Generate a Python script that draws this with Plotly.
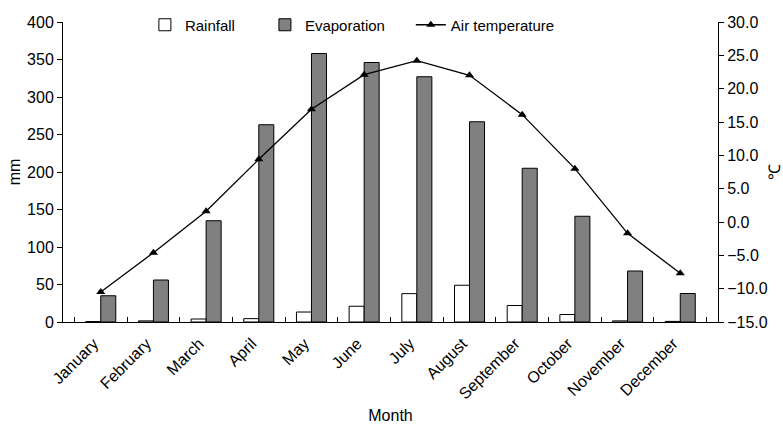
import plotly.graph_objects as go

months = ["January", "February", "March", "April", "May", "June", "July",
          "August", "September", "October", "November", "December"]
rainfall = [0.6, 1.5, 4.0, 4.5, 13.3, 21.0, 37.8, 49.0, 22.0, 10.0, 1.5, 0.8]
evaporation = [35, 56, 135, 263, 358, 346, 327, 267, 205, 141, 68, 38]
air_temp = [-10.5, -4.6, 1.6, 9.4, 16.9, 22.1, 24.2, 22.0, 16.1, 8.0, -1.7, -7.7]

font_family = "Liberation Sans, Arial, sans-serif"

fig = go.Figure()
fig.add_trace(go.Bar(
    x=months, y=rainfall, name="Rainfall" + "\u00a0" * 6,
    marker=dict(color="white", line=dict(color="black", width=1)),
))
fig.add_trace(go.Bar(
    x=months, y=evaporation, name="Evaporation" + "\u00a0" * 5,
    marker=dict(color="#808080", line=dict(color="black", width=1)),
))
fig.add_trace(go.Scatter(
    x=months, y=air_temp, name="Air temperature", yaxis="y2",
    mode="lines+markers",
    line=dict(color="black", width=1.3),
    marker=dict(symbol="triangle-up", size=8, color="black"),
))

fig.update_layout(
    width=783, height=424,
    margin=dict(l=63, r=65, t=22, b=102, autoexpand=False),
    paper_bgcolor="white", plot_bgcolor="white",
    font=dict(family=font_family, size=15, color="black"),
    barmode="group", bargap=0.43, bargroupgap=0,
    showlegend=True,
    legend=dict(orientation="h", x=0.125, y=0.99, xanchor="left", yanchor="middle",
                bgcolor="rgba(0,0,0,0)", font=dict(size=15), traceorder="normal"),
    xaxis=dict(
        title=dict(text="Month", font=dict(size=16), standoff=10),
        showline=True, linecolor="black", linewidth=1,
        ticks="inside", tickson="boundaries", ticklen=5, tickcolor="black",
        tickangle=-45, tickfont=dict(size=16), automargin=False,
        ticklabelshift=-7, ticklabelstandoff=5,
        showgrid=False, zeroline=False,
    ),
    yaxis=dict(
        title=dict(text="mm", font=dict(size=16), standoff=2),
        range=[0, 400], dtick=50, automargin=False,
        showline=True, linecolor="black", linewidth=1,
        ticks="outside", ticklen=5, tickcolor="black",
        tickfont=dict(size=16),
        showgrid=False, zeroline=False,
    ),
    yaxis2=dict(
        title=dict(text="℃", font=dict(size=16), standoff=8),
        overlaying="y", side="right", automargin=False,
        range=[-15, 30], dtick=5, tickformat=".1f",
        showline=True, linecolor="black", linewidth=1,
        ticks="outside", ticklen=5, tickcolor="black",
        tickfont=dict(size=16),
        showgrid=False, zeroline=False,
    ),
)

fig.write_html("out.html", config={"displayModeBar": False},
               post_script="document.body.style.margin='0px';")
